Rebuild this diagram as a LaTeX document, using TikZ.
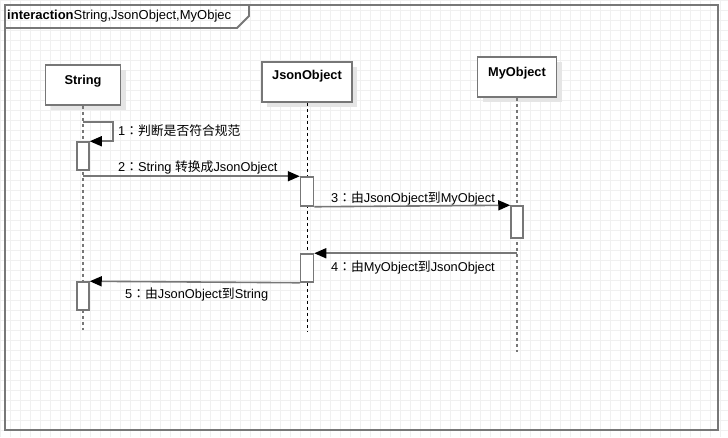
\documentclass[tikz,border=0pt]{standalone}
\usepackage{fontspec}
\setmainfont{Liberation Sans}
\newfontfamily\cjk{Noto Sans CJK SC}
\newfontfamily\cjktc{Noto Sans CJK TC}
\newcommand{\fcolon}{{\cjktc ：}}
\usetikzlibrary{arrows.meta,shadows}
\definecolor{frame}{HTML}{777777}
\begin{document}
\begin{tikzpicture}
[
  x=1pt, y=-1pt,
  font=\fontsize{12.8}{15}\selectfont,
  gridline/.style={black!6,line width=0.6pt},
  head/.style={draw=frame,line width=1.8pt,fill=white,minimum height=40pt,inner sep=0pt,
    drop shadow={shadow xshift=5pt,shadow yshift=-5pt,fill=black!10,opacity=1}},
  headtxt/.style={font=\fontsize{12.8}{15}\selectfont\bfseries,inner sep=0pt},
  act/.style={draw=frame,line width=1.5pt,fill=white,minimum width=12pt,inner sep=0pt},
  msg/.style={frame,line width=1.6pt,-{Triangle[length=12pt,width=10pt,color=black]}},
  life/.style={frame,line width=2pt,dash pattern=on 3pt off 3pt},
  lifethin/.style={black,line width=0.8pt,dash pattern=on 3pt off 3pt},
  txt/.style={anchor=west,inner sep=0pt}
]
\useasboundingbox (0,0) rectangle (728,437);
\fill[white] (0,0) rectangle (728,437);
\draw[gridline] (0,0) grid[step=10pt] (728,437);

% frame
\draw[frame,line width=2.2pt] (5,5) rectangle (718,430);
\draw[frame,line width=1.8pt] (5,28) -- (237,28) -- (249,16) -- (249,5);
\node[txt,font=\fontsize{13}{15}\selectfont] (title) at (7,16) {\textbf{interaction}String,JsonObject,MyObjec};

% lifelines
\node[head,minimum width=75pt] (string) at (83,85) {};
\node[head,minimum width=90pt] (json) at (307,82) {};
\node[head,minimum width=79pt] (myobj) at (517,77) {};
\node[headtxt] (stringTxt) at ([yshift=-17pt]string.north) {String};
\node[headtxt] (jsonTxt) at ([yshift=-15pt]json.north) {JsonObject};
\node[headtxt] (myobjTxt) at ([yshift=-17pt]myobj.north) {MyObject};

\coordinate (stringEnd) at (83,330);
\coordinate (jsonEnd) at (307,332);
\coordinate (myobjEnd) at (517,352);
\draw[life] (string.south) -- (stringEnd);
\draw[lifethin] (json.south) -- (jsonEnd);
\draw[life] (myobj.south) -- (myobjEnd);

% activations
\node[act,minimum height=28pt] (act1) at (83,156) {};
\node[act,minimum height=29pt,minimum width=13pt] (act2) at (307,191.5) {};
\node[act,minimum height=32pt] (act3) at (517,222) {};
\node[act,minimum height=28pt,minimum width=13pt] (act4) at (307,268) {};
\node[act,minimum height=28pt] (act5) at (83,296) {};

% messages
\coordinate (self1) at (113,122);
\draw[msg] (string |- self1) -- (self1) |- (act1.north east);
\draw[msg] (string |- act2.north west) -- (act2.north west);
\draw[msg] (act2.south east) -- (act3.north west);
\draw[msg] (myobj |- act4.north east) -- (act4.north east);
\draw[msg] (act4.south west) -- (act5.north east);

\node[txt] (m1) at (118,131) {1\fcolon{\cjk 判断是否符合规范}};
\node[txt] (m2) at (118,167) {2\fcolon String {\cjk 转换成}JsonObject};
\node[txt] (m3) at (331,198) {3\fcolon{\cjk 由}JsonObject{\cjk 到}MyObject};
\node[txt] (m4) at (331,267) {4\fcolon{\cjk 由}MyObject{\cjk 到}JsonObject};
\node[txt] (m5) at (125,294) {5\fcolon{\cjk 由}JsonObject{\cjk 到}String};

\end{tikzpicture}
\end{document}
